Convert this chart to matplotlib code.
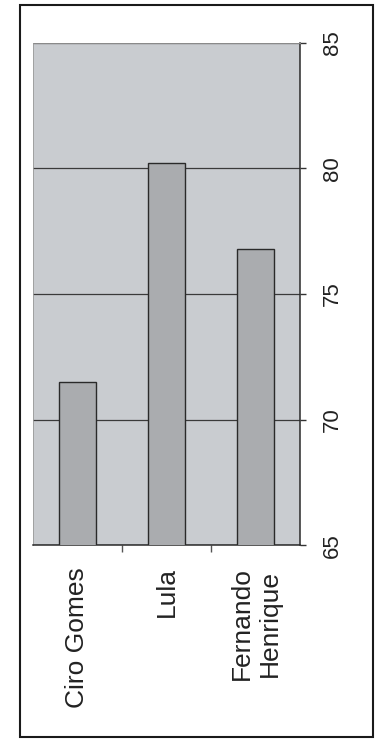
import matplotlib.pyplot as plt
from matplotlib.patches import Rectangle

# Candidates and their values
candidates = ["Ciro Gomes", "Lula", "Fernando\nHenrique"]
values = [71.5, 80.2, 76.8]
value_ticks = [65, 70, 75, 80, 85]

plt.rcParams['font.family'] = ['Liberation Sans', 'DejaVu Sans']

fig = plt.figure(figsize=(3.78, 7.49), dpi=100)
ax = fig.add_axes([0.087, 0.272, 0.707, 0.671])

x = range(len(candidates))
ax.bar(x, values, width=0.42, bottom=0, color="#aaacaf", edgecolor="#2a2a2a",
       linewidth=1.0, zorder=3)

ax.set_facecolor("#c9ccd0")
ax.set_xlim(-0.5, len(candidates) - 0.5)
ax.set_ylim(65, 85)

# value axis on the right, labels turned like the scan
ax.yaxis.tick_right()
ax.set_yticks(value_ticks)
ax.set_yticklabels([str(v) for v in value_ticks], rotation=90, va="center",
                   fontsize=16, color="#222222")
ax.tick_params(axis="y", length=4, width=1, pad=12, color="#333333")
ax.grid(axis="y", color="#3a3a3a", linewidth=0.9, zorder=1)

# category labels, read from bottom to top
ax.set_xticks(list(x))
ax.set_xticklabels(candidates, rotation=90, fontsize=19, va="top", ha="center",
                   multialignment="center", color="#222222")
ax.tick_params(axis="x", length=0, pad=16)
ax.set_xticks([0.5, 1.5], minor=True)
ax.tick_params(axis="x", which="minor", length=5, width=1, color="#555555")

for side in ["left", "top"]:
    ax.spines[side].set_color("#9a9a9a")
    ax.spines[side].set_linewidth(0.6)
for side in ["bottom", "right"]:
    ax.spines[side].set_color("#2a2a2a")
    ax.spines[side].set_linewidth(1.1)

# outer frame of the printed figure
fig.patches.append(Rectangle((20 / 378, 1 - 737 / 749), 353 / 378, 732 / 749,
                             transform=fig.transFigure, fill=False,
                             edgecolor="#1a1a1a", linewidth=1.5))

fig.savefig("out.png", dpi=100, facecolor="white")
